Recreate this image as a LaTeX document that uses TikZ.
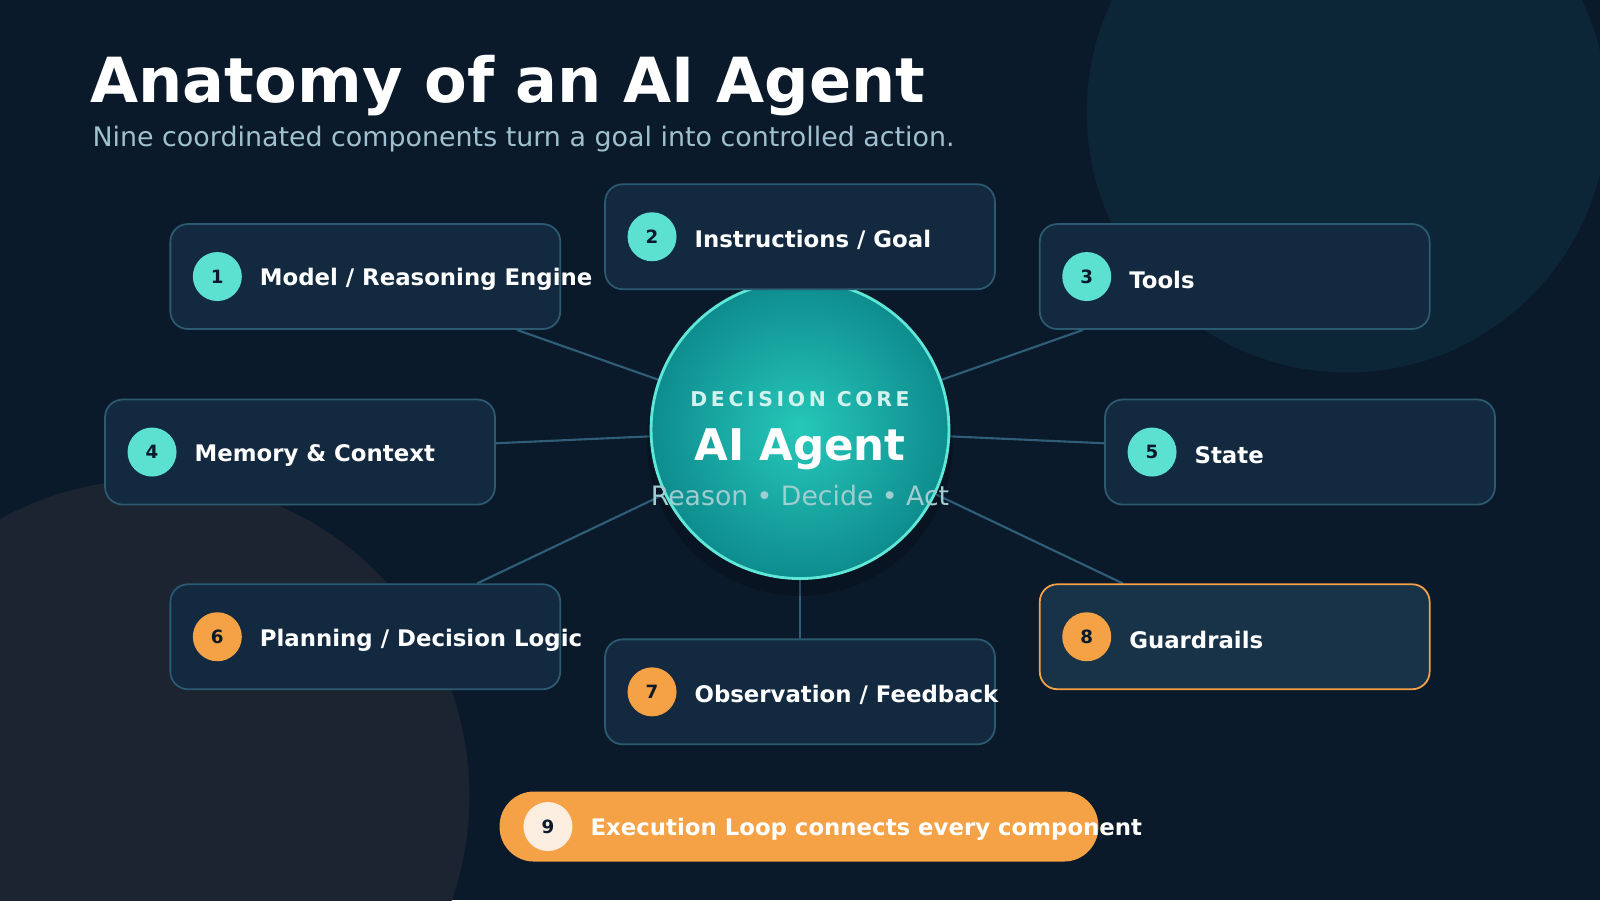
\documentclass[tikz,border=0pt]{standalone}
\usepackage{fontspec}
\setmainfont{DejaVu Sans}
\usetikzlibrary{positioning, backgrounds}

\definecolor{bgnavy}{HTML}{0A1A2B}
\definecolor{bgteal}{HTML}{0C2638}
\definecolor{bggray}{HTML}{1B2430}
\definecolor{boxfill}{HTML}{13293F}
\definecolor{boxline}{HTML}{2C5A70}
\definecolor{guardfill}{HTML}{183348}
\definecolor{linkcol}{HTML}{2F5F78}
\definecolor{tealdot}{HTML}{5CE0D0}
\definecolor{orangedot}{HTML}{F5A145}
\definecolor{creamdot}{HTML}{FBEEE0}
\definecolor{coreedge}{HTML}{5FE8D8}
\definecolor{coreinner}{HTML}{26C8BA}
\definecolor{coreouter}{HTML}{0E8C8E}
\definecolor{coretagcol}{HTML}{D2F2EE}
\definecolor{coresubcol}{HTML}{A0CDD0}
\definecolor{subgray}{HTML}{9FC0CF}

\tikzset{
    card/.style={draw=boxline, line width=0.5pt, fill=boxfill, rounded corners=5pt,
        minimum width=3.9cm, minimum height=1.05cm},
    badge/.style={circle, fill=#1, minimum size=0.49cm, inner sep=0pt,
        font=\fontsize{5.2}{6}\selectfont\bfseries, text=bgnavy},
    label/.style={anchor=west, yshift=-0.9pt, text=white, font=\fontsize{6.5}{8}\selectfont\bfseries, inner sep=0pt},
    link/.style={draw=linkcol, line width=0.6pt}
}

\begin{document}
\begin{tikzpicture}[x=0.010204cm, y=-0.010204cm]
    \useasboundingbox (0,0) rectangle (1568,882);

    % heading
    \node[anchor=base west, inner sep=0pt, text=white, font=\fontsize{17.7}{21}\selectfont\bfseries]
        (title) at (88,100) {Anatomy of an AI Agent};
    \node[anchor=base west, inner sep=0pt, text=subgray, font=\fontsize{7.65}{9}\selectfont]
        (subtitle) at (90,144) {Nine coordinated components turn a goal into controlled action.};

    % core
    \fill[black, opacity=0.2] (784,434) circle (150);
    \node[circle, minimum size=2.98cm, draw=coreedge, line width=0.8pt,
        inner color=coreinner, outer color=coreouter] (core) at (784,421) {};
    \node[text=coretagcol, font=\fontsize{5.8}{7}\selectfont\bfseries\addfontfeature{LetterSpace=18}]
        (coretag) at (784,391) {DECISION CORE};
    \node[text=white, font=\fontsize{12.4}{15}\selectfont\bfseries] (coretitle) at (784,440) {AI Agent};
    \node[text=coresubcol, font=\fontsize{7.6}{9}\selectfont] (coresub) at (784,486)
        {Reason • Decide • Act};

    % cards
    \node[card] (b1) at (358,271) {};
    \node[card] (b2) at (784,232) {};
    \node[card] (b3) at (1210,271) {};
    \node[card] (b4) at (294,443) {};
    \node[card] (b5) at (1274,443) {};
    \node[card] (b6) at (358,624) {};
    \node[card] (b7) at (784,678) {};
    \node[card, draw=orangedot, fill=guardfill] (b8) at (1210,624) {};

    \node[badge=tealdot] (d1) at (213,271) {1};
    \node[badge=tealdot] (d2) at (639,232) {2};
    \node[badge=tealdot] (d3) at (1065,271) {3};
    \node[badge=tealdot] (d4) at (149,443) {4};
    \node[badge=tealdot] (d5) at (1129,443) {5};
    \node[badge=orangedot] (d6) at (213,624) {6};
    \node[badge=orangedot] (d7) at (639,678) {7};
    \node[badge=orangedot] (d8) at (1065,624) {8};

    \node[label] (t1) at (254,271) {Model / Reasoning Engine};
    \node[label] (t2) at (680,232) {Instructions / Goal};
    \node[label] (t3) at (1106,271) {Tools};
    \node[label] (t4) at (190,443) {Memory \& Context};
    \node[label] (t5) at (1170,443) {State};
    \node[label] (t6) at (254,624) {Planning / Decision Logic};
    \node[label] (t7) at (680,678) {Observation / Feedback};
    \node[label] (t8) at (1106,624) {Guardrails};

    % background and links behind everything
    \begin{pgfonlayer}{background}
        \fill[bgnavy] (0,0) rectangle (1568,882);
        \begin{scope}
            \clip (0,0) rectangle (1568,882);
            \fill[bgteal] (1320,110) circle (255);
            \fill[bggray] (150,780) circle (310);
        \end{scope}
        \foreach \b in {b1,b2,b3,b4,b5,b6,b7,b8}
            \draw[link] (core) -- (\b);
    \end{pgfonlayer}

    % execution loop
    \node[rounded corners=9.8pt, fill=orangedot, minimum width=5.99cm, minimum height=0.7cm]
        (loop) at (783,810) {};
    \node[badge=creamdot] (d9) at (537,810) {9};
    \node[label] (t9) at (578,810) {Execution Loop connects every component};
\end{tikzpicture}
\end{document}
